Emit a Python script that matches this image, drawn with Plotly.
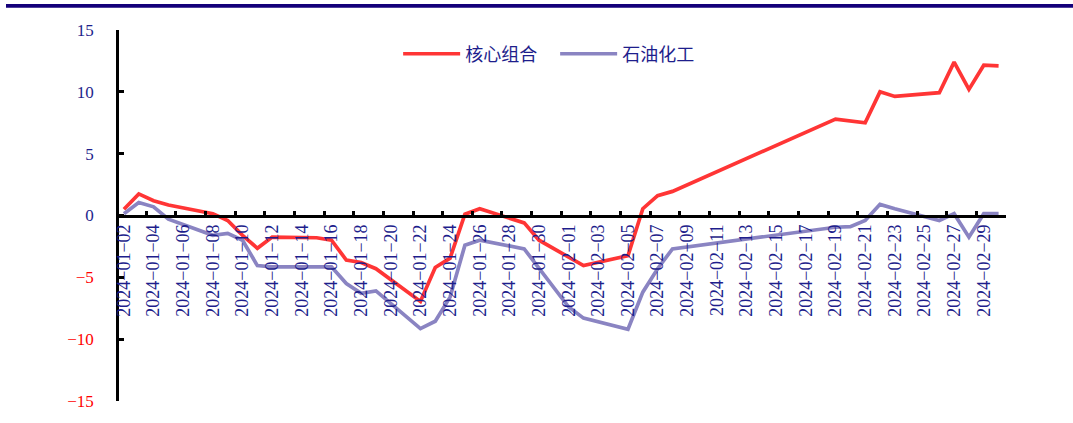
import plotly.graph_objects as go

dates = [
    "2024-01-02", "2024-01-03", "2024-01-04", "2024-01-05", "2024-01-08", "2024-01-09",
    "2024-01-10", "2024-01-11", "2024-01-12", "2024-01-15", "2024-01-16", "2024-01-17",
    "2024-01-18", "2024-01-19", "2024-01-22", "2024-01-23", "2024-01-24", "2024-01-25",
    "2024-01-26", "2024-01-29", "2024-01-30", "2024-01-31", "2024-02-01", "2024-02-02",
    "2024-02-05", "2024-02-06", "2024-02-07", "2024-02-08", "2024-02-19", "2024-02-20",
    "2024-02-21", "2024-02-22", "2024-02-23", "2024-02-26", "2024-02-27", "2024-02-28",
    "2024-02-29", "2024-03-01",
]
core = [
    0.5, 1.75, 1.2, 0.85, 0.15, -0.4,
    -1.6, -2.65, -1.75, -1.8, -2.0, -3.6,
    -3.8, -4.3, -6.95, -4.2, -3.45, 0.1,
    0.55, -0.6, -2.0, -2.7, -3.4, -4.05,
    -3.25, 0.55, 1.6, 1.95, 7.8, 7.65,
    7.5, 10.0, 9.63, 9.93, 12.4, 10.2,
    12.15, 12.1,
]
petro = [
    0.15, 1.05, 0.7, -0.3, -1.6, -1.45,
    -2.0, -4.05, -4.15, -4.1, -4.15, -5.5,
    -6.3, -6.1, -9.15, -8.55, -6.6, -2.4,
    -2.0, -2.7, -4.3, -5.9, -7.4, -8.3,
    -9.2, -6.2, -4.3, -2.7, -0.95, -0.9,
    -0.4, 0.9, 0.55, -0.4, 0.15, -1.75,
    0.15, 0.15,
]

x_label_dates = [
    "2024-01-02", "2024-01-04", "2024-01-06", "2024-01-08", "2024-01-10", "2024-01-12",
    "2024-01-14", "2024-01-16", "2024-01-18", "2024-01-20", "2024-01-22", "2024-01-24",
    "2024-01-26", "2024-01-28", "2024-01-30", "2024-02-01", "2024-02-03", "2024-02-05",
    "2024-02-07", "2024-02-09", "2024-02-11", "2024-02-13", "2024-02-15", "2024-02-17",
    "2024-02-19", "2024-02-21", "2024-02-23", "2024-02-25", "2024-02-27", "2024-02-29",
]
x_label_text = [d.replace("-", "\u2212") for d in x_label_dates]

y_tick_vals = [-15, -10, -5, 0, 5, 10, 15]
NAVY = "#1E1E8C"
RED_LBL = "#FF0000"
y_tick_text = [
    (f'<span style="color:{RED_LBL}">\u2212{abs(v)}</span>' if v < 0 else str(v))
    for v in y_tick_vals
]

RED = "#FF3535"
PURPLE = "#8A84C2"
FONT = "Liberation Serif, Times New Roman, Noto Sans CJK SC, serif"

x_range = ["2024-01-01 16:00", "2024-03-01 12:00"]

fig = go.Figure()
fig.add_trace(go.Scatter(x=dates, y=core, mode="lines", name="核心组合",
                         line=dict(color=RED, width=3.7)))
fig.add_trace(go.Scatter(x=dates, y=petro, mode="lines", name="石油化工",
                         line=dict(color=PURPLE, width=3.7)))
# invisible trace for tick-mark overlay axis
fig.add_trace(go.Scatter(x=[dates[0]], y=[0], xaxis="x2", mode="markers",
                         marker=dict(opacity=0), showlegend=False, hoverinfo="skip"))

PL, PR, PT, PB = 119, 1006, 30, 401
PW, PH = PR - PL, PB - PT

fig.update_layout(
    width=1073, height=423,
    margin=dict(l=PL, r=1073 - PR, t=PT, b=423 - PB),
    paper_bgcolor="white", plot_bgcolor="white",
    font=dict(family=FONT, size=18, color=NAVY),
    showlegend=True,
    legend=dict(orientation="h", x=0.3147, y=0.985, xanchor="left", yanchor="top",
                font=dict(family=FONT, size=18, color=NAVY),
                itemwidth=57, entrywidth=85, bgcolor="rgba(0,0,0,0)"),
    xaxis=dict(
        type="date", range=x_range, automargin=False,
        anchor="free", position=0.5,
        showline=True, linecolor="black", linewidth=2.5,
        showgrid=False, zeroline=False,
        tickmode="array", tickvals=x_label_dates, ticktext=x_label_text,
        ticks="", tickangle=-90,
        tickfont=dict(family=FONT, size=18, color=NAVY),
    ),
    xaxis2=dict(
        type="date", range=x_range, overlaying="x", automargin=False,
        anchor="free", position=0.5,
        showline=False, showgrid=False, zeroline=False,
        tick0="2024-01-01 12:00", dtick=172800000,
        ticks="inside", ticklen=5, tickwidth=2.5, tickcolor="black",
        showticklabels=False,
    ),
    yaxis=dict(
        range=[-15, 15], domain=[0, 1], automargin=False,
        showline=True, linecolor="black", linewidth=2.5,
        showgrid=False, zeroline=False,
        tickmode="array", tickvals=y_tick_vals, ticktext=y_tick_text,
        ticks="inside", ticklen=5, tickwidth=2.5, tickcolor="black",
        ticklabelstandoff=19,
        tickfont=dict(family=FONT, size=17, color=NAVY),
    ),
    shapes=[dict(type="line", xref="paper", yref="paper",
                 x0=(6 - PL) / PW, x1=(1073 - PL) / PW,
                 y0=(PB - 5.8) / PH, y1=(PB - 5.8) / PH,
                 line=dict(color="#14007A", width=3.7))],
)

fig.write_html("out.html", config={"displayModeBar": False},
               post_script="document.body.style.margin='0px';")
